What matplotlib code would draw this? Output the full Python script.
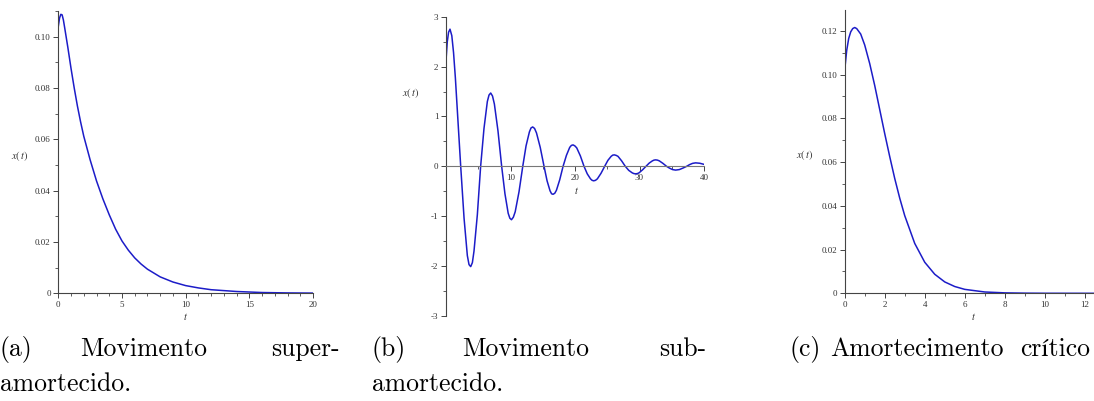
import matplotlib
matplotlib.use("Agg")
import matplotlib.pyplot as plt
from matplotlib.ticker import MultipleLocator

# over-damped response x(t)
t_super = [0, 0.1, 0.2, 0.3, 0.4, 0.5, 0.75, 1.0, 1.25, 1.5, 1.75, 2.0, 2.5, 3.0,
           3.5, 4.0, 4.5, 5.0, 5.5, 6.0, 6.5, 7.0, 8.0, 9.0, 10, 11, 12, 14, 16, 18, 20]
x_super = [0.104, 0.1073, 0.1087, 0.1085, 0.1065, 0.1035, 0.0958, 0.0876, 0.0800,
           0.0730, 0.0668, 0.0612, 0.0520, 0.0438, 0.0368, 0.0306, 0.0250, 0.0204,
           0.0168, 0.0138, 0.0114, 0.0094, 0.0064, 0.0044, 0.0030, 0.0021, 0.0014,
           0.0007, 0.0003, 0.00015, 0.00008]

# under-damped response x(t)
t_sub = [0, 0.2, 0.4, 0.62, 0.9, 1.17, 1.45, 1.73, 2.0,
         2.28, 2.80, 3.31, 3.57, 3.83, 4.09, 4.34, 4.86,
         5.37, 5.89, 6.41, 6.67, 6.93, 7.21, 7.5, 8.06,
         8.63, 9.14, 9.64, 9.9, 10.15, 10.44, 10.73, 11.32,
         11.9, 12.41, 12.93, 13.18, 13.44, 13.73, 14.03, 14.61,
         15.2, 15.67, 16.13, 16.37, 16.6, 16.86, 17.12, 17.63,
         18.15, 18.67, 19.18, 19.44, 19.7, 19.98, 20.27, 20.83,
         21.4, 21.9, 22.4, 22.65, 22.9, 23.18, 23.47, 24.03,
         24.6, 25.1, 25.6, 25.85, 26.1, 26.38, 26.67, 27.23,
         27.8, 28.33, 28.87, 29.13, 29.4, 29.67, 29.93, 30.47,
         31.0, 31.5, 32.0, 32.25, 32.5, 32.78, 33.07, 33.63,
         34.2, 34.67, 35.13, 35.6, 36.17, 36.73,
         37.3, 37.77, 38.23, 38.7, 39.35, 40]
x_sub = [2.12, 2.5, 2.69, 2.75, 2.62, 2.28, 1.78, 1.18, 0.6,
         0, -1.04, -1.79, -1.97, -2.01, -1.93, -1.70, -0.97,
         0, 0.76, 1.30, 1.43, 1.47, 1.41, 1.25, 0.71,
         0, -0.55, -0.94, -1.04, -1.07, -1.02, -0.91, -0.51,
         0, 0.41, 0.69, 0.77, 0.79, 0.76, 0.67, 0.38,
         0, -0.29, -0.49, -0.55, -0.56, -0.54, -0.48, -0.27,
         0, 0.22, 0.38, 0.42, 0.43, 0.41, 0.37, 0.21,
         0, -0.15, -0.25, -0.28, -0.29, -0.28, -0.25, -0.14,
         0, 0.12, 0.20, 0.225, 0.23, 0.22, 0.20, 0.11,
         0, -0.08, -0.13, -0.145, -0.15, -0.145, -0.13, -0.07,
         0, 0.065, 0.11, 0.125, 0.13, 0.125, 0.11, 0.06,
         0, -0.037, -0.065, -0.075, -0.065, -0.035,
         0, 0.035, 0.06, 0.07, 0.062, 0.04]

# critically damped response x(t)
t_crit = [0, 0.1, 0.2, 0.3, 0.4, 0.5, 0.6, 0.8, 1.0, 1.25, 1.5, 1.75, 2.0, 2.25,
          2.5, 2.75, 3.0, 3.5, 4.0, 4.5, 5.0, 5.5, 6.0, 7.0, 8.0, 9.0, 10, 11, 12.5]
x_crit = [0.102, 0.111, 0.1165, 0.1195, 0.121, 0.1215, 0.121, 0.1185, 0.1135,
          0.105, 0.095, 0.084, 0.073, 0.0625, 0.0525, 0.0435, 0.0355, 0.0228,
          0.0142, 0.0087, 0.0052, 0.0031, 0.0018, 0.0006, 0.0002, 0.00007,
          0.00002, 0.00001, 0.0]

super_yticks = [0, 0.02, 0.04, 0.06, 0.08, 0.10]
super_ylabels = ["0", "0.02", "0.04", "0.06", "0.08", "0.10"]
super_xticks = [0, 5, 10, 15, 20]
sub_yticks = [-3, -2, -1, 0, 1, 2, 3]
sub_ylabels = ["-3", "-2", "-1", "0", "1", "2", "3"]
sub_xticks = [10, 20, 30, 40]
crit_yticks = [0, 0.02, 0.04, 0.06, 0.08, 0.10, 0.12]
crit_ylabels = ["0", "0.02", "0.04", "0.06", "0.08", "0.10", "0.12"]
crit_xticks = [0, 2, 4, 6, 8, 10, 12]

W, H = 1094, 401
fig = plt.figure(figsize=(W / 100, H / 100), dpi=100)
plt.rcParams["mathtext.fontset"] = "stix"

line_col = "#1c1cc8"
axis_col = "#444444"
tick_font = dict(family="Liberation Serif", size=6.5, color="#333333")


def px(x, y):
    return x / W, 1 - y / H


def axes_px(left, top, right, bottom):
    return fig.add_axes([left / W, 1 - bottom / H, (right - left) / W, (bottom - top) / H])


def style(ax):
    for s in ["top", "right"]:
        ax.spines[s].set_visible(False)
    for s in ["left", "bottom"]:
        ax.spines[s].set_color(axis_col)
        ax.spines[s].set_linewidth(0.8)
    ax.tick_params(which="major", length=3.5, width=0.7, color=axis_col, pad=2)
    ax.tick_params(which="minor", length=2, width=0.6, color=axis_col)
    for lab in ax.get_xticklabels() + ax.get_yticklabels():
        lab.set_fontfamily(tick_font["family"])
        lab.set_fontsize(tick_font["size"])
        lab.set_color(tick_font["color"])
    ax.patch.set_alpha(0)


# (a)
ax1 = axes_px(58.3, 11, 313, 293.3)
ax1.plot(t_super, x_super, color=line_col, lw=1.1)
ax1.set_xlim(0, 20)
ax1.set_ylim(0, 0.11)
ax1.set_xticks(super_xticks)
ax1.set_yticks(super_yticks, super_ylabels)
ax1.xaxis.set_minor_locator(MultipleLocator(1))
ax1.yaxis.set_minor_locator(MultipleLocator(0.01))
style(ax1)

# (b)
ax2 = axes_px(446, 16.7, 704, 316)
ax2.plot(t_sub, x_sub, color=line_col, lw=1.1)
ax2.set_xlim(0, 40)
ax2.set_ylim(-3, 3)
ax2.spines["bottom"].set_position(("data", 0))
ax2.set_xticks(sub_xticks)
ax2.set_yticks(sub_yticks, sub_ylabels)
ax2.xaxis.set_minor_locator(MultipleLocator(5))
ax2.yaxis.set_minor_locator(MultipleLocator(0.5))
style(ax2)
ax2.spines["bottom"].set_color("#777777")

# (c)
ax3 = axes_px(844.7, 10, 1094, 293.3)
ax3.plot(t_crit, x_crit, color=line_col, lw=1.1)
ax3.set_xlim(0, 12.46)
ax3.set_ylim(0, 0.1295)
ax3.set_xticks(crit_xticks)
ax3.set_yticks(crit_yticks, crit_ylabels)
ax3.xaxis.set_minor_locator(MultipleLocator(1))
ax3.yaxis.set_minor_locator(MultipleLocator(0.01))
style(ax3)

# axis names
lab_kw = dict(fontsize=7.5, color="#333333", ha="center", va="center")
for x, y in [(19.5, 156), (411, 93), (805, 155)]:
    fig.text(*px(x, y), r"$x(\,t)$", **lab_kw)
for x, y in [(186, 316.5), (577, 191), (974, 316.5)]:
    fig.text(*px(x, y), r"$t$", **lab_kw)

# subfigure captions
cap_kw = dict(family=["cmr10", "STIXGeneral", "DejaVu Serif"], fontsize=18.5,
              va="baseline", color="black")
y1, y2 = 356, 391
fig.text(*px(0, y1), "(a)", ha="left", **cap_kw)
fig.text(*px(80, y1), "Movimento", ha="left", **cap_kw)
fig.text(*px(340, y1), "super-", ha="right", **cap_kw)
fig.text(*px(0, y2), "amortecido.", ha="left", **cap_kw)

fig.text(*px(372, y1), "(b)", ha="left", **cap_kw)
fig.text(*px(462, y1), "Movimento", ha="left", **cap_kw)
fig.text(*px(706, y1), "sub-", ha="right", **cap_kw)
fig.text(*px(372, y2), "amortecido.", ha="left", **cap_kw)

fig.text(*px(790, y1), "(c)", ha="left", **cap_kw)
fig.text(*px(830, y1), "Amortecimento", ha="left", **cap_kw)
fig.text(*px(1020, y1), "crítico", ha="left", **cap_kw)

fig.savefig("out.png", dpi=100)
